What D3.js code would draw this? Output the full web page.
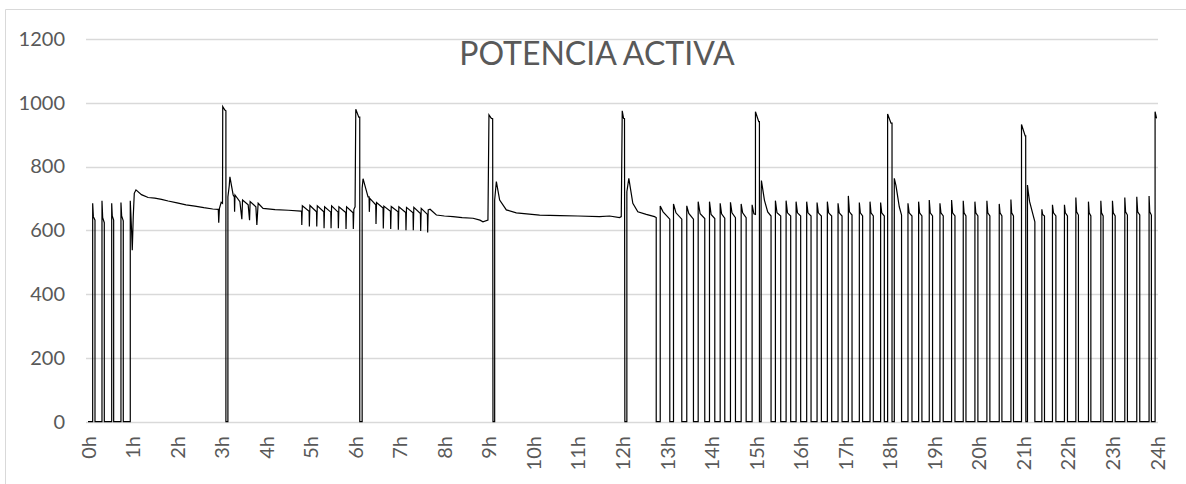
<!DOCTYPE html>
<html><head><meta charset="utf-8">
<script src="https://cdn.jsdelivr.net/npm/d3@7"></script>
<style>html,body{margin:0;padding:0;background:#fff}</style>
</head><body>
<svg id="c" width="1186" height="484"></svg>
<script>
// ---------- DATA (hours, kW) ----------
const title = "POTENCIA ACTIVA";
const tickLabels = ["0h","1h","2h","3h","4h","5h","6h","7h","8h","9h","10h","11h","12h","13h","14h","15h","16h","17h","18h","19h","20h","21h","22h","23h","24h"];
const yTicks = [0, 200, 400, 600, 800, 1000, 1200];

// short pulses 0h-1h
const earlyOn   = [0.105, 0.314, 0.532, 0.740];
const earlyOff  = [0.157, 0.366, 0.576, 0.792];
const earlyPeak = [685, 693, 685, 687];
const earlyMid  = [643, 640, 645, 645];
const earlyEnd  = [632, 624, 632, 630];

// continuous run 1h - 4.8h
const run1 = [[0,0],[0.949,0],[0.949,693],[0.978,601],[0.994,538],[1.016,643],[1.039,716],[1.077,727],
  [1.2,712],[1.35,703],[1.5,701],[1.65,697],[1.8,692],[2.0,686],[2.2,680],[2.4,676],[2.6,671],[2.8,667],
  [2.925,666],[2.935,624],[2.95,668],[2.99,688],[3.02,685],[3.025,988],[3.073,977],[3.096,975],[3.096,0],
  [3.141,0],[3.141,705],[3.171,740],[3.186,768],[3.259,711],[3.285,705],[3.291,658],[3.30,711],[3.41,690],
  [3.454,635],[3.47,695],[3.596,680],[3.627,632],[3.64,690],[3.769,674],[3.791,617],[3.82,685],[3.93,669],
  [4.2,665],[4.5,663],[4.78,660]];

// saw teeth 4.8h - 6h
const toothAT    = [4.794, 4.964, 5.130, 5.294, 5.451, 5.615, 5.787, 5.951];
const toothAPre  = [660, 660, 658, 658, 657, 657, 656, 655];
const toothADip  = [617, 612, 612, 607, 607, 607, 604, 604];
const toothAPeak = [677, 678, 677, 674, 677, 674, 674, 666];

// 6h start
const run6 = [[5.996,674],[6.012,980],[6.079,955],[6.101,955],[6.101,0],[6.155,0],[6.155,732],[6.175,762],[6.287,705]];

// saw teeth 6.3h - 7.7h
const toothBT    = [6.310, 6.460, 6.624, 6.790, 6.961, 7.133, 7.297, 7.463, 7.620];
const toothBPre  = [705, 680, 670, 660, 658, 656, 655, 653, 650];
const toothBDip  = [658, 620, 606, 604, 602, 600, 600, 598, 593];
const toothBPeak = [700, 687, 676, 675, 674, 672, 672, 669, 664];

// run 7.7h - 12.8h
const run2 = [[7.68,666],[7.822,648],[8.0,645],[8.194,643],[8.4,640],[8.643,638],[8.8,632],[8.867,627],[8.979,632],
  [9.002,962],[9.056,951],[9.085,950],[9.092,0],[9.130,0],[9.130,695],[9.168,753],[9.242,695],[9.392,664],[9.616,655],
  [10.139,648],[10.6,646],[11.0,645],[11.485,643],[11.710,645],[11.934,640],[11.972,643],[11.994,975],[12.024,951],
  [12.045,950],[12.053,0],[12.098,0],[12.098,721],[12.142,763],[12.232,685],[12.344,658],[12.533,650],[12.719,643],
  [12.757,640],[12.757,0]];

// start events at 15h, 18h, 21h, 24h
const spike15 = [[14.910,0],[14.910,680],[14.95,652],[14.985,650],[14.985,972],[15.059,941],[15.074,941],[15.074,0],
  [15.112,0],[15.112,705],[15.119,756],[15.186,695],[15.260,658],[15.335,645],[15.335,0]];
const spike18 = [[17.952,0],[17.952,965],[18.028,936],[18.051,936],[18.051,0],[18.102,0],[18.102,763],[18.140,740],
  [18.214,674],[18.265,648],[18.265,0]];
const spike21 = [[20.958,0],[20.958,932],[21.041,896],[21.052,896],[21.056,0],[21.092,0],[21.092,742],[21.11,720],
  [21.14,690],[21.258,627],[21.258,0]];
const spike24 = [[23.957,0],[23.957,972],[23.990,951]];

// on/off pulses 12.8h - 24h
const pulseOn  = [12.847,13.145,13.443,13.699,13.953,14.193,14.424,14.664,15.433,15.673,15.897,16.135,16.368,16.599,16.839,
  17.070,17.317,17.557,17.795,18.409,18.648,18.887,19.127,19.388,19.650,19.912,20.181,20.458,20.720,21.415,21.653,21.922,
  22.178,22.461,22.739,23.000,23.277,23.546,23.822];
const pulseOff = [13.062,13.331,13.593,13.847,14.072,14.296,14.536,14.776,15.552,15.776,16.000,16.233,16.465,16.696,16.929,
  17.153,17.391,17.631,17.878,18.499,18.722,18.961,19.201,19.464,19.711,19.979,20.248,20.518,20.778,21.474,21.730,21.990,
  22.236,22.515,22.791,23.061,23.336,23.613,23.874];
const pulsePeak = [676,683,677,690,690,685,688,683,693,693,690,690,687,690,685,708,687,690,687,685,690,695,685,695,693,690,
  693,683,697,666,680,680,703,690,693,693,703,705,708];
const pulseMid = [658,655,653,652,650,652,655,655,655,655,655,655,655,655,655,658,655,655,655,655,655,655,655,655,655,655,
  655,655,655,650,655,655,658,655,655,655,658,658,658];
const pulseEnd = [635,635,635,637,637,638,640,640,645,645,645,645,645,645,645,648,645,645,645,645,645,645,645,645,645,645,
  645,645,645,645,645,645,648,645,645,645,648,648,648];

// ---------- BUILD ----------
const pieces = [];
pieces.push(run1.slice(0,1));
earlyOn.forEach((t,i)=>{
  const w = earlyOff[i]-t;
  pieces.push([[t,0],[t,earlyPeak[i]],[t+w*0.3,earlyMid[i]],[earlyOff[i],earlyEnd[i]],[earlyOff[i],0]]);
});
pieces.push(run1.slice(1));
pieces.push(toothAT.flatMap((t,i)=>[[t,toothAPre[i]],[t+0.006,toothADip[i]],[t+0.018,toothAPeak[i]]]));
pieces.push(run6);
pieces.push(toothBT.flatMap((t,i)=>[[t,toothBPre[i]],[t+0.006,toothBDip[i]],[t+0.018,toothBPeak[i]]]));
pieces.push(run2);
pieces.push(spike15, spike18, spike21, spike24);
pulseOn.forEach((t,i)=>{
  const w = pulseOff[i]-t;
  pieces.push([[t,0],[t,pulsePeak[i]],[t+w*0.3,pulseMid[i]],[pulseOff[i],pulseEnd[i]],[pulseOff[i],0]]);
});
pieces.sort((a,b)=>a[0][0]-b[0][0]);
const series = pieces.flat();

// ---------- DRAW ----------
const svg = d3.select("#c");
svg.append("rect").attr("width",1186).attr("height",484).attr("fill","#fff");
svg.append("path").attr("d","M5.5,484V9.5H1186").attr("fill","none").attr("stroke","#d9d9d9").attr("stroke-width",1);

const x = d3.scaleLinear().domain([0,24]).range([88,1157]);
const y = d3.scaleLinear().domain([0,1200]).range([421.7,39]);

svg.append("g").selectAll("line").data(yTicks).join("line")
  .attr("x1",86).attr("x2",1158)
  .attr("y1",d=>Math.round(y(d))+0.5).attr("y2",d=>Math.round(y(d))+0.5)
  .attr("stroke","#d9d9d9").attr("stroke-width",1.3);

const font = "Lato, 'Open Sans', sans-serif";
const yAxis = d3.axisLeft(y).tickValues(yTicks).tickFormat(d3.format("d")).tickSize(0).tickPadding(0);
const gy = svg.append("g").attr("transform","translate(65,0)").call(yAxis);
gy.select(".domain").remove();
gy.selectAll("text").attr("font-family",font).attr("font-size",20).attr("fill","#595959");

const xAxis = d3.axisBottom(x).tickValues(d3.range(0,25)).tickFormat(i=>tickLabels[i]).tickSize(0).tickPadding(0);
const gx = svg.append("g").attr("transform","translate(0,436)").call(xAxis);
gx.select(".domain").remove();
gx.selectAll("text").attr("font-family",font).attr("font-size",20).attr("fill","#595959")
  .attr("transform","rotate(-90)").attr("text-anchor","end").attr("x",0).attr("y",0).attr("dy","0.35em");

const line = d3.line().x(d=>x(d[0])).y(d=>y(d[1]));
svg.append("path").datum(series).attr("d",line).attr("fill","none").attr("stroke","#000").attr("stroke-width",1.2)
  .attr("stroke-linejoin","miter");

svg.append("text").attr("x",597).attr("y",65).attr("text-anchor","middle")
  .attr("font-family",font).attr("font-size",32).attr("fill","#595959").text(title);
</script>
</body></html>
